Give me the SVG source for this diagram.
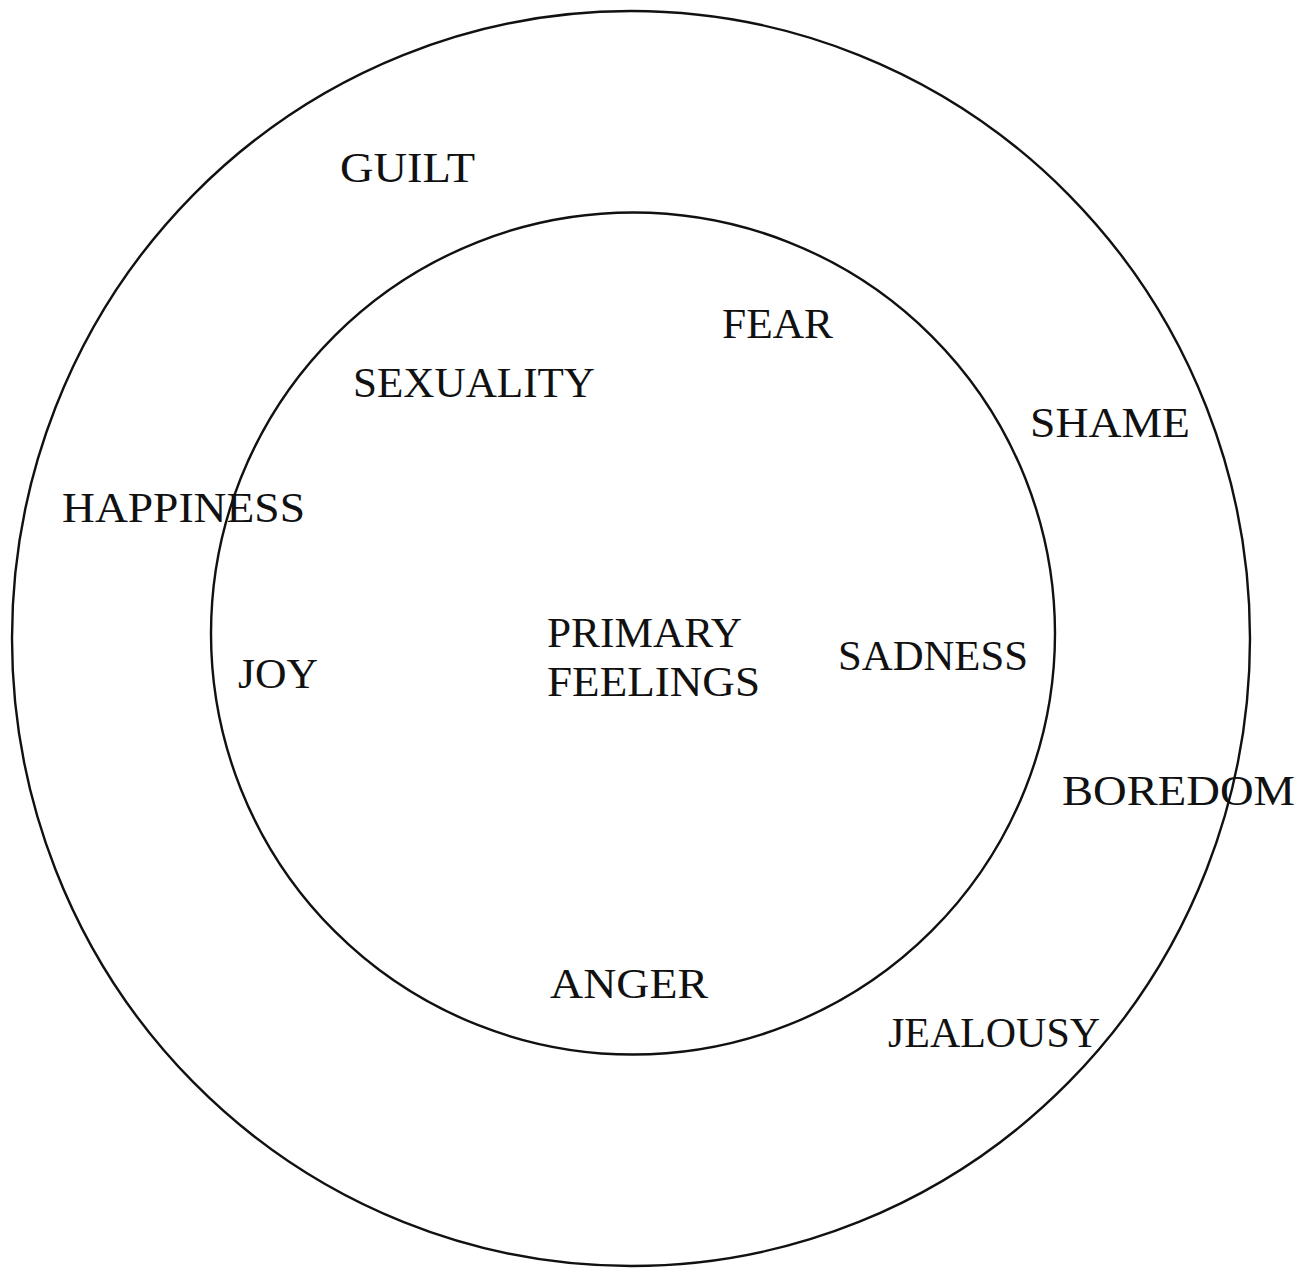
<svg xmlns="http://www.w3.org/2000/svg" width="1303" height="1271" viewBox="0 0 1303 1271">
<style>
.ring{fill:none;stroke:#111;stroke-width:2.4}
.lbl{font-family:"Liberation Serif","DejaVu Serif",serif;font-size:43px;fill:#111;lengthAdjust:spacing}
</style>
<rect width="1303" height="1271" fill="#fff"/>
<g id="connectors"></g>
<g id="outer-ring"><ellipse class="ring" cx="631" cy="638.5" rx="619" ry="627.5"/></g>
<g id="inner-ring"><ellipse class="ring" cx="633" cy="633.5" rx="422" ry="421"/></g>
<g id="guilt"><text class="lbl" x="340" y="182" textLength="135" lengthAdjust="spacingAndGlyphs">GUILT</text></g>
<g id="fear"><text class="lbl" x="722" y="338" textLength="111" lengthAdjust="spacingAndGlyphs">FEAR</text></g>
<g id="sexuality"><text class="lbl" x="353" y="397" textLength="242" lengthAdjust="spacingAndGlyphs">SEXUALITY</text></g>
<g id="shame"><text class="lbl" x="1030" y="437" textLength="160" lengthAdjust="spacingAndGlyphs">SHAME</text></g>
<g id="happiness"><text class="lbl" x="62" y="522" textLength="243" lengthAdjust="spacingAndGlyphs">HAPPINESS</text></g>
<g id="joy"><text class="lbl" x="238" y="688" textLength="80" lengthAdjust="spacingAndGlyphs">JOY</text></g>
<g id="primary-feelings"><text class="lbl" x="547" y="647" textLength="195" lengthAdjust="spacingAndGlyphs">PRIMARY</text><text class="lbl" x="547" y="696" textLength="213" lengthAdjust="spacingAndGlyphs">FEELINGS</text></g>
<g id="sadness"><text class="lbl" x="838" y="670" textLength="190" lengthAdjust="spacingAndGlyphs">SADNESS</text></g>
<g id="boredom"><text class="lbl" x="1062" y="805" textLength="233" lengthAdjust="spacingAndGlyphs">BOREDOM</text></g>
<g id="anger"><text class="lbl" x="550" y="998" textLength="158" lengthAdjust="spacingAndGlyphs">ANGER</text></g>
<g id="jealousy"><text class="lbl" x="888" y="1047" textLength="212" lengthAdjust="spacingAndGlyphs">JEALOUSY</text></g>
</svg>
